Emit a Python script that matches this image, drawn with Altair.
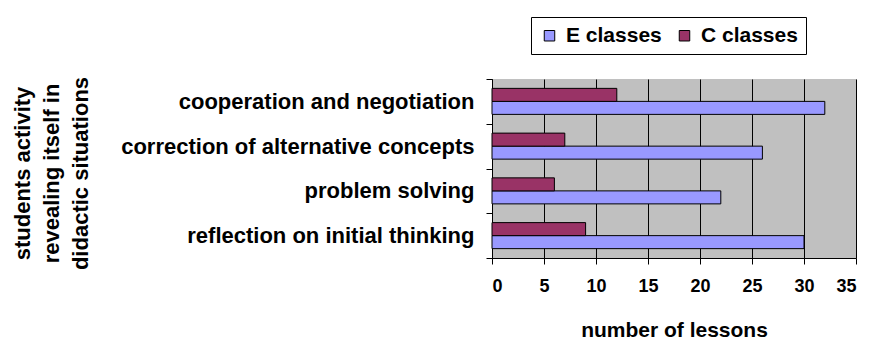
import altair as alt
import pandas as pd

categories = [
    "cooperation and negotiation",
    "correction of alternative concepts",
    "problem solving",
    "reflection on initial thinking",
]
e_classes = [32, 26, 22, 30]
c_classes = [12, 7, 6, 9]
series = ["E classes", "C classes"]
colors = ["#9999FF", "#993366"]

rows = []
for cat, e, c in zip(categories, e_classes, c_classes):
    rows.append({"activity": cat, "series": "E classes", "lessons": e})
    rows.append({"activity": cat, "series": "C classes", "lessons": c})
df = pd.DataFrame(rows)

FONT = "Liberation Sans"

chart = (
    alt.Chart(df)
    .mark_bar(stroke="black", strokeWidth=1)
    .encode(
        x=alt.X(
            "lessons:Q",
            scale=alt.Scale(domain=[0, 35], nice=False),
            axis=alt.Axis(
                values=[0, 5, 10, 15, 20, 25, 30, 35],
                title="number of lessons",
                grid=True,
                gridColor="black",
                gridOpacity=1,
                gridWidth=1,
                domainColor="black",
                tickColor="black",
                tickSize=6,
                labelFont=FONT,
                labelFontWeight="bold",
                labelFontSize=18,
                labelColor="black",
                labelPadding=13,
                titleFont=FONT,
                titleFontWeight="bold",
                titleFontSize=21,
                titleColor="black",
                titleBaseline="alphabetic",
                titleY=78,
            ),
        ),
        y=alt.Y(
            "activity:N",
            sort=categories,
            scale=alt.Scale(paddingInner=0, paddingOuter=0),
            axis=alt.Axis(
                title=["students activity", "revealing itself in", "didactic situations"],
                tickBand="extent",
                domainColor="black",
                tickColor="black",
                tickSize=6,
                labelFont=FONT,
                labelFontWeight="bold",
                labelFontSize=22,
                labelColor="black",
                labelPadding=12,
                labelLimit=400,
                titleFont=FONT,
                titleFontWeight="bold",
                titleFontSize=22,
                titleColor="black",
                titleLineHeight=29,
                titleAngle=-90,
                titleBaseline="middle",
                titleAlign="center",
                titleX=-470,
                titleY=94,
                titleLimit=300,
            ),
        ),
        yOffset=alt.YOffset(
            "series:N",
            sort=["C classes", "E classes"],
            scale=alt.Scale(paddingInner=0, paddingOuter=0.72),
        ),
        color=alt.Color(
            "series:N",
            scale=alt.Scale(domain=series, range=colors),
            legend=alt.Legend(
                title=None,
                orient="none",
                legendX=39,
                legendY=-62,
                direction="horizontal",
                columns=2,
                symbolType="square",
                symbolSize=110,
                symbolStrokeColor="black",
                symbolStrokeWidth=1,
                symbolOpacity=1,
                labelFont=FONT,
                labelFontWeight="bold",
                labelFontSize=21,
                labelColor="black",
                labelOffset=6,
                columnPadding=12,
                padding=8,
                strokeColor="black",
                fillColor="white",
            ),
        ),
    )
    .properties(
        width=364,
        height=179,
        autosize=alt.AutoSizeParams(type="none"),
        padding={"left": 492, "top": 79, "right": 13, "bottom": 84},
        background="white",
    )
    .configure_view(fill="#C0C0C0", stroke="#C0C0C0")
)

chart.save("out.html", embed_options={"renderer": "svg", "actions": False})
